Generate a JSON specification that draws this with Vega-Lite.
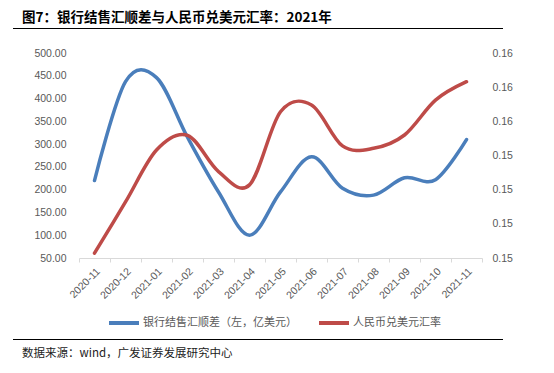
{
  "$schema": "https://vega.github.io/schema/vega-lite/v6.json",
  "background": "white",
  "padding": {"left": 13, "top": 10, "right": 0, "bottom": 0},
  "config": {"view": {"stroke": null}, "font": "Noto Sans CJK SC"},
  "spacing": 19,
  "resolve": {"scale": {"color": "independent"}, "legend": {"color": "independent"}},
  "vconcat": [
    {
      "width": 490,
      "height": 1,
      "view": {"fill": "#000000", "stroke": null},
      "title": {
        "text": "图7：银行结售汇顺差与人民币兑美元汇率：2021年",
        "anchor": "start",
        "dx": 9,
        "offset": 4,
        "fontSize": 13.5,
        "fontWeight": "bold",
        "font": "Noto Sans CJK SC",
        "color": "#000000"
      },
      "data": {"values": []},
      "mark": "point"
    },
    {
      "spacing": 8,
      "resolve": {"scale": {"color": "independent"}, "legend": {"color": "independent"}},
      "vconcat": [
        {
          "spacing": 0,
          "resolve": {"scale": {"color": "independent"}, "legend": {"color": "independent"}},
          "hconcat": [
            {"width": 20, "height": 10, "data": {"values": []}, "mark": "point"},
            {
              "width": 403,
              "height": 205,
              "data": {
                "values": [
                  {"month": "2020-11", "series": "银行结售汇顺差（左，亿美元）", "value": 220},
                  {"month": "2020-12", "series": "银行结售汇顺差（左，亿美元）", "value": 437},
                  {"month": "2021-01", "series": "银行结售汇顺差（左，亿美元）", "value": 446},
                  {"month": "2021-02", "series": "银行结售汇顺差（左，亿美元）", "value": 315},
                  {"month": "2021-03", "series": "银行结售汇顺差（左，亿美元）", "value": 195},
                  {"month": "2021-04", "series": "银行结售汇顺差（左，亿美元）", "value": 100},
                  {"month": "2021-05", "series": "银行结售汇顺差（左，亿美元）", "value": 195},
                  {"month": "2021-06", "series": "银行结售汇顺差（左，亿美元）", "value": 272},
                  {"month": "2021-07", "series": "银行结售汇顺差（左，亿美元）", "value": 203},
                  {"month": "2021-08", "series": "银行结售汇顺差（左，亿美元）", "value": 188},
                  {"month": "2021-09", "series": "银行结售汇顺差（左，亿美元）", "value": 226},
                  {"month": "2021-10", "series": "银行结售汇顺差（左，亿美元）", "value": 222},
                  {"month": "2021-11", "series": "银行结售汇顺差（左，亿美元）", "value": 310},
                  {"month": "2020-11", "series": "人民币兑美元汇率", "value": 0.15114},
                  {"month": "2020-12", "series": "人民币兑美元汇率", "value": 0.15264},
                  {"month": "2021-01", "series": "人民币兑美元汇率", "value": 0.15416},
                  {"month": "2021-02", "series": "人民币兑美元汇率", "value": 0.15459},
                  {"month": "2021-03", "series": "人民币兑美元汇率", "value": 0.15353},
                  {"month": "2021-04", "series": "人民币兑美元汇率", "value": 0.15314},
                  {"month": "2021-05", "series": "人民币兑美元汇率", "value": 0.15528},
                  {"month": "2021-06", "series": "人民币兑美元汇率", "value": 0.15548},
                  {"month": "2021-07", "series": "人民币兑美元汇率", "value": 0.15428},
                  {"month": "2021-08", "series": "人民币兑美元汇率", "value": 0.15421},
                  {"month": "2021-09", "series": "人民币兑美元汇率", "value": 0.15460},
                  {"month": "2021-10", "series": "人民币兑美元汇率", "value": 0.15562},
                  {"month": "2021-11", "series": "人民币兑美元汇率", "value": 0.15616}
                ]
              },
              "encoding": {
                "x": {
                  "field": "month",
                  "type": "ordinal",
                  "bandPosition": 0.5,
                  "scale": {"type": "band", "paddingInner": 0, "paddingOuter": 0},
                  "axis": {
                    "title": null,
                    "labelAngle": -45,
                    "labelFontSize": 10.5,
                    "labelFont": "Liberation Sans",
                    "labelColor": "#595959",
                    "domainColor": "#d9d9d9",
                    "tickColor": "#d9d9d9",
                    "tickSize": 4,
                    "tickBand": "extent",
                    "labelPadding": 4,
                    "grid": false
                  }
                },
                "color": {
                  "field": "series",
                  "type": "nominal",
                  "scale": {
                    "domain": ["银行结售汇顺差（左，亿美元）", "人民币兑美元汇率"],
                    "range": ["#4a7ebb", "#be4b48"]
                  },
                  "legend": {
                    "orient": "none",
                    "legendX": 28,
                    "legendY": 253,
                    "direction": "horizontal",
                    "title": null,
                    "symbolType": "stroke",
                    "symbolStrokeWidth": 4,
                    "symbolSize": 900,
                    "labelFontSize": 11,
                    "labelFont": "Noto Sans CJK SC",
                    "labelColor": "#595959",
                    "labelOffset": 2,
                    "columnPadding": 14
                  }
                }
              },
              "layer": [
                {
                  "transform": [{"filter": "datum.series === '银行结售汇顺差（左，亿美元）'"}],
                  "mark": {"type": "line", "interpolate": "cardinal", "tension": 0, "strokeWidth": 3.5, "strokeCap": "round"},
                  "encoding": {
                    "y": {
                      "field": "value",
                      "type": "quantitative",
                      "scale": {"domain": [50, 500], "nice": false, "zero": false},
                      "axis": {
                        "orient": "left",
                        "title": null,
                        "values": [50, 100, 150, 200, 250, 300, 350, 400, 450, 500],
                        "format": ".2f",
                        "domain": false,
                        "ticks": false,
                        "grid": false,
                        "labelPadding": 13,
                        "labelFontSize": 10.5,
                        "labelFont": "Liberation Sans",
                        "labelColor": "#595959"
                      }
                    }
                  }
                },
                {
                  "transform": [{"filter": "datum.series === '人民币兑美元汇率'"}],
                  "mark": {"type": "line", "interpolate": "cardinal", "tension": 0, "strokeWidth": 3.5, "strokeCap": "round"},
                  "encoding": {
                    "y": {
                      "field": "value",
                      "type": "quantitative",
                      "scale": {"domain": [0.151, 0.157], "nice": false, "zero": false},
                      "axis": {
                        "orient": "right",
                        "title": null,
                        "values": [0.151, 0.152, 0.153, 0.154, 0.155, 0.156, 0.157],
                        "labelExpr": "format(datum.value + 0.000001, '.2f')",
                        "domain": false,
                        "ticks": false,
                        "grid": false,
                        "labelPadding": 10,
                        "labelFontSize": 10.5,
                        "labelFont": "Liberation Sans",
                        "labelColor": "#595959"
                      }
                    }
                  }
                }
              ],
              "resolve": {"scale": {"y": "independent"}}
            }
          ]
        },
        {
          "width": 490,
          "height": 1,
          "view": {"fill": "#000000", "stroke": null},
          "title": {
            "text": "数据来源：wind，广发证券发展研究中心",
            "orient": "bottom",
            "anchor": "start",
            "dx": 9,
            "offset": 8,
            "fontSize": 11.5,
            "fontWeight": "normal",
            "font": "Noto Sans CJK SC",
            "color": "#222222"
          },
          "data": {"values": []},
          "mark": "point"
        }
      ]
    }
  ]
}
